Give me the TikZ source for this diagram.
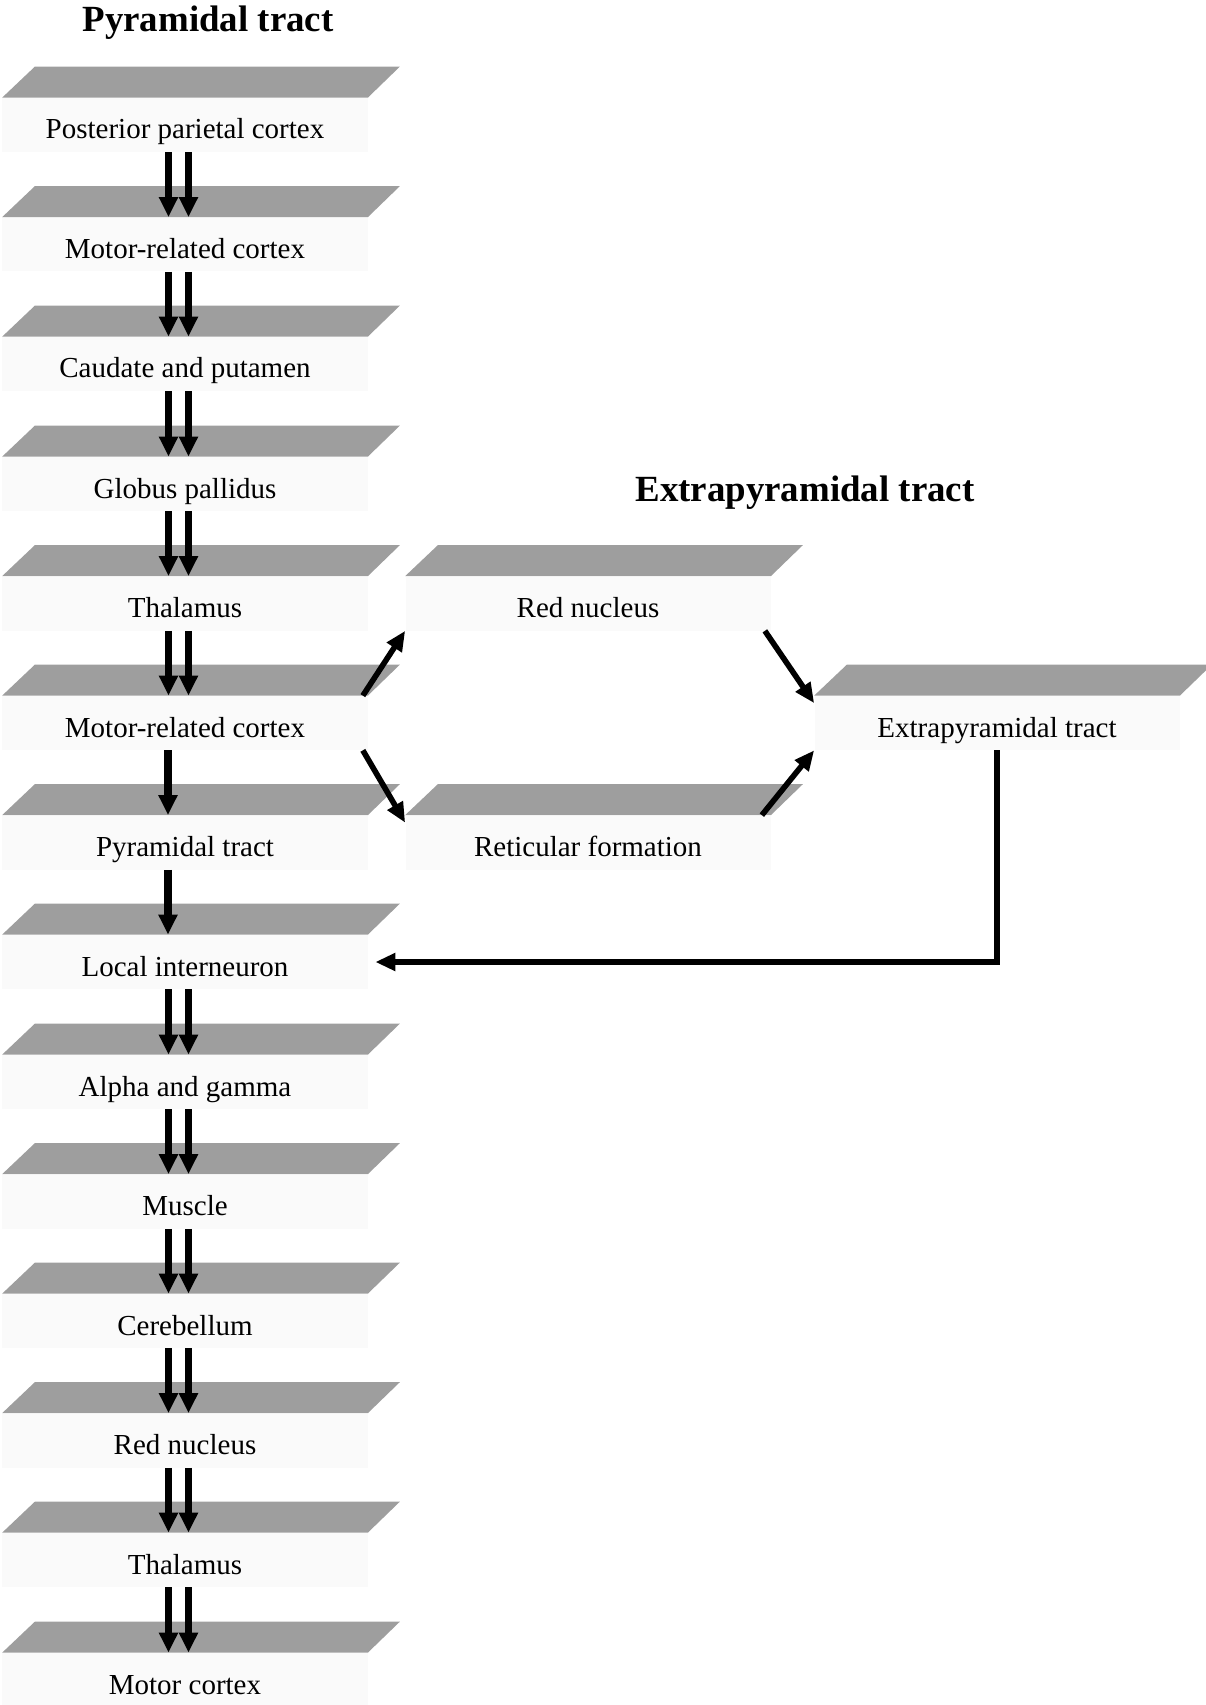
\documentclass[tikz,border=0pt]{standalone}
\usepackage{fontspec}
\setmainfont{Liberation Serif}
\usetikzlibrary{arrows.meta}

\begin{document}
\begin{tikzpicture}[
    lbl/.style={fill=gray!4, minimum width=7.3cm, minimum height=1.08cm, inner sep=0pt, text height=0.66cm, text depth=0.1cm, font=\fontsize{16.5}{20}\selectfont},
    band/.style={fill=black!38},
    ttl/.style={font=\fontsize{21}{25}\selectfont\bfseries},
    arr/.style={line width=4pt, -{Triangle[length=0.4cm,width=0.36cm]}},
    sarr/.style={line width=3.2pt, -{Triangle[length=0.4cm,width=0.34cm]}}
  ]
  \useasboundingbox (0,0) rectangle (24.1,-34.1);

  % titles
  \node[ttl] (TP) at (4.16,-0.46) {Pyramidal tract};
  \node[ttl] (TE) at (16.1,-9.86) {Extrapyramidal tract};

  % pyramidal column
  \node[lbl] (P0) at (3.7,-2.50) {Posterior parietal cortex};
  \node[lbl] (P1) at (3.7,-4.89) {Motor-related cortex};
  \node[lbl] (P2) at (3.7,-7.28) {Caudate and putamen};
  \node[lbl] (P3) at (3.7,-9.68) {Globus pallidus};
  \node[lbl] (P4) at (3.7,-12.07) {Thalamus};
  \node[lbl] (P5) at (3.7,-14.46) {Motor-related cortex};
  \node[lbl] (P6) at (3.7,-16.85) {Pyramidal tract};
  \node[lbl] (P7) at (3.7,-19.24) {Local interneuron};
  \node[lbl] (P8) at (3.7,-21.64) {Alpha and gamma};
  \node[lbl] (P9) at (3.7,-24.03) {Muscle};
  \node[lbl] (P10) at (3.7,-26.42) {Cerebellum};
  \node[lbl] (P11) at (3.7,-28.81) {Red nucleus};
  \node[lbl] (P12) at (3.7,-31.20) {Thalamus};
  \node[lbl] (P13) at (3.7,-33.60) {Motor cortex};

  % extrapyramidal side
  \node[lbl] (RN) at (11.76,-12.07) {Red nucleus};
  \node[lbl] (RF) at (11.76,-16.85) {Reticular formation};
  \node[lbl] (EP) at (19.94,-14.46) {Extrapyramidal tract};

  % bands above the labels
  \fill[band] (P0.north west) -- (P0.north east) -- ++(0.64,0.62) -- ++(-7.3,0) -- cycle;
  \fill[band] (P1.north west) -- (P1.north east) -- ++(0.64,0.62) -- ++(-7.3,0) -- cycle;
  \fill[band] (P2.north west) -- (P2.north east) -- ++(0.64,0.62) -- ++(-7.3,0) -- cycle;
  \fill[band] (P3.north west) -- (P3.north east) -- ++(0.64,0.62) -- ++(-7.3,0) -- cycle;
  \fill[band] (P4.north west) -- (P4.north east) -- ++(0.64,0.62) -- ++(-7.3,0) -- cycle;
  \fill[band] (P5.north west) -- (P5.north east) -- ++(0.64,0.62) -- ++(-7.3,0) -- cycle;
  \fill[band] (P6.north west) -- (P6.north east) -- ++(0.64,0.62) -- ++(-7.3,0) -- cycle;
  \fill[band] (P7.north west) -- (P7.north east) -- ++(0.64,0.62) -- ++(-7.3,0) -- cycle;
  \fill[band] (P8.north west) -- (P8.north east) -- ++(0.64,0.62) -- ++(-7.3,0) -- cycle;
  \fill[band] (P9.north west) -- (P9.north east) -- ++(0.64,0.62) -- ++(-7.3,0) -- cycle;
  \fill[band] (P10.north west) -- (P10.north east) -- ++(0.64,0.62) -- ++(-7.3,0) -- cycle;
  \fill[band] (P11.north west) -- (P11.north east) -- ++(0.64,0.62) -- ++(-7.3,0) -- cycle;
  \fill[band] (P12.north west) -- (P12.north east) -- ++(0.64,0.62) -- ++(-7.3,0) -- cycle;
  \fill[band] (P13.north west) -- (P13.north east) -- ++(0.64,0.62) -- ++(-7.3,0) -- cycle;
  \fill[band] (RN.north west) -- (RN.north east) -- ++(0.64,0.62) -- ++(-7.3,0) -- cycle;
  \fill[band] (RF.north west) -- (RF.north east) -- ++(0.64,0.62) -- ++(-7.3,0) -- cycle;
  \fill[band] (EP.north west) -- (EP.north east) -- ++(0.64,0.62) -- ++(-7.3,0) -- cycle;

  % double arrows
  \draw[arr] ([xshift=-0.33cm]P0.south) -- ([xshift=-0.33cm]P1.north);
  \draw[arr] ([xshift=0.07cm]P0.south) -- ([xshift=0.07cm]P1.north);
  \draw[arr] ([xshift=-0.33cm]P1.south) -- ([xshift=-0.33cm]P2.north);
  \draw[arr] ([xshift=0.07cm]P1.south) -- ([xshift=0.07cm]P2.north);
  \draw[arr] ([xshift=-0.33cm]P2.south) -- ([xshift=-0.33cm]P3.north);
  \draw[arr] ([xshift=0.07cm]P2.south) -- ([xshift=0.07cm]P3.north);
  \draw[arr] ([xshift=-0.33cm]P3.south) -- ([xshift=-0.33cm]P4.north);
  \draw[arr] ([xshift=0.07cm]P3.south) -- ([xshift=0.07cm]P4.north);
  \draw[arr] ([xshift=-0.33cm]P4.south) -- ([xshift=-0.33cm]P5.north);
  \draw[arr] ([xshift=0.07cm]P4.south) -- ([xshift=0.07cm]P5.north);

  % single arrows
  \draw[arr] ([xshift=-0.34cm]P5.south) -- ([xshift=-0.34cm]P6.north);
  \draw[arr] ([xshift=-0.34cm]P6.south) -- ([xshift=-0.34cm]P7.north);

  % double arrows again
  \draw[arr] ([xshift=-0.33cm]P7.south) -- ([xshift=-0.33cm]P8.north);
  \draw[arr] ([xshift=0.07cm]P7.south) -- ([xshift=0.07cm]P8.north);
  \draw[arr] ([xshift=-0.33cm]P8.south) -- ([xshift=-0.33cm]P9.north);
  \draw[arr] ([xshift=0.07cm]P8.south) -- ([xshift=0.07cm]P9.north);
  \draw[arr] ([xshift=-0.33cm]P9.south) -- ([xshift=-0.33cm]P10.north);
  \draw[arr] ([xshift=0.07cm]P9.south) -- ([xshift=0.07cm]P10.north);
  \draw[arr] ([xshift=-0.33cm]P10.south) -- ([xshift=-0.33cm]P11.north);
  \draw[arr] ([xshift=0.07cm]P10.south) -- ([xshift=0.07cm]P11.north);
  \draw[arr] ([xshift=-0.33cm]P11.south) -- ([xshift=-0.33cm]P12.north);
  \draw[arr] ([xshift=0.07cm]P11.south) -- ([xshift=0.07cm]P12.north);
  \draw[arr] ([xshift=-0.33cm]P12.south) -- ([xshift=-0.33cm]P13.north);
  \draw[arr] ([xshift=0.07cm]P12.south) -- ([xshift=0.07cm]P13.north);

  % branch to the extrapyramidal tract
  \draw[sarr] ([xshift=-0.1cm]P5.north east) -- (RN.south west);
  \draw[sarr] ([xshift=-0.1cm]P5.south east) -- ([yshift=-0.15cm]RF.north west);
  \draw[sarr] ([xshift=-0.12cm]RN.south east) -- ([yshift=-0.15cm]EP.north west);
  \draw[sarr] ([xshift=-0.18cm]RF.north east) -- (EP.south west);
  \draw[sarr] (EP.south) |- ([xshift=0.15cm]P7.east);

\end{tikzpicture}
\end{document}
